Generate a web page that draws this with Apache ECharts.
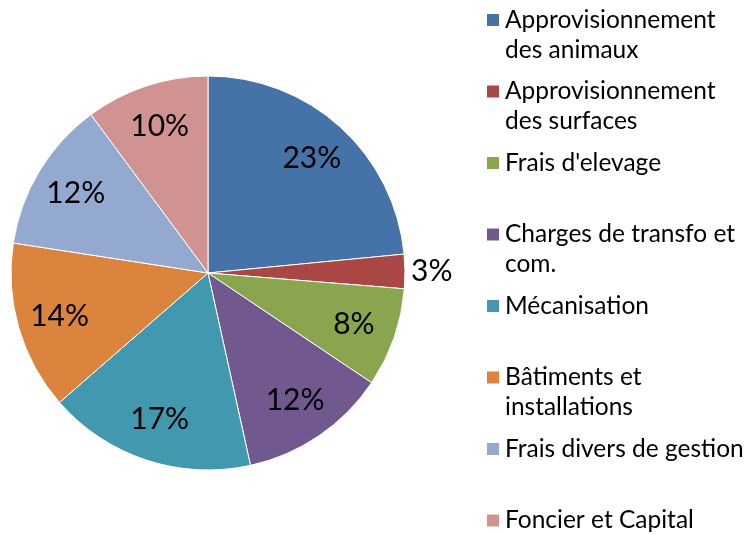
<!DOCTYPE html>
<html>
<head>
    <meta charset="utf-8">
    <title>Répartition des charges</title>
    <script src="https://cdn.jsdelivr.net/npm/echarts@6/dist/echarts.min.js"></script>
    <style>
        html, body { margin: 0; padding: 0; background: #fff; }
        #chart { width: 747px; height: 534px; }
    </style>
</head>
<body>
<div id="chart"></div>
<script>
    // postes de charges (les \n reprennent le retour a la ligne de la legende)
    var categories = [
        'Approvisionnement\ndes animaux',
        'Approvisionnement\ndes surfaces',
        "Frais d'elevage",
        'Charges de transfo et\ncom.',
        'Mécanisation',
        'Bâtiments et\ninstallations',
        'Frais divers de gestion',
        'Foncier et Capital'
    ];
    var values = [23.4, 2.8, 8.1, 12.1, 17.0, 13.8, 12.4, 10.1];
    var colors = ['#4572A7', '#AA4643', '#89A54E', '#71588F', '#4198AF', '#DB843D', '#93A9CF', '#D19392'];

    var font = 'Lato, "Open Sans", sans-serif';
    var cx = 208, cy = 273, r = 197;

    var total = 0;
    var pieData = [];
    var labelData = [];
    for (var i = 0; i < categories.length; i++) {
        total += values[i];
        var small = values[i] < 5;
        pieData.push({
            name: categories[i],
            value: values[i],
            label: {show: small}
        });
        labelData.push({
            name: categories[i],
            value: values[i],
            label: {show: !small}
        });
    }

    // arrondi simple, comme sur le graphique d'origine (somme = 99 %)
    var pctLabel = function (p) {
        return Math.round(p.value / total * 100) + '%';
    };

    var myChart = echarts.init(document.getElementById('chart'), null, {renderer: 'canvas'});
    var option = {
        animation: false,
        color: colors,
        legend: {
            orient: 'vertical',
            left: 485,
            top: -25,
            height: 640,
            padding: 0,
            itemGap: -18.5,
            itemWidth: 14,
            itemHeight: 14,
            icon: 'rect',
            selectedMode: false,
            data: categories,
            // ligne vide au-dessus pour aligner la premiere ligne sur le carre
            formatter: function (name) {
                return name.indexOf('\n') >= 0 ? ' \n' + name : ' \n' + name + '\n ';
            },
            textStyle: {
                fontFamily: font,
                fontSize: 24.5,
                lineHeight: 30,
                color: '#000'
            }
        },
        series: [
            {
                type: 'pie',
                center: [cx, cy],
                radius: [0, r],
                startAngle: 90,
                clockwise: true,
                silent: true,
                itemStyle: {borderColor: '#fff', borderWidth: 1},
                label: {
                    position: 'outside',
                    formatter: pctLabel,
                    fontFamily: font,
                    fontSize: 30,
                    color: '#000',
                    distanceToLabelLine: 4
                },
                labelLine: {show: false, length: 2, length2: 0},
                data: pieData
            },
            {
                // anneau transparent : place les etiquettes a ~3/4 du rayon
                type: 'pie',
                center: [cx, cy],
                radius: [106, r],
                startAngle: 90,
                clockwise: true,
                silent: true,
                itemStyle: {color: 'rgba(0,0,0,0)'},
                label: {
                    position: 'inside',
                    formatter: pctLabel,
                    fontFamily: font,
                    fontSize: 30,
                    color: '#000'
                },
                labelLine: {show: false},
                data: labelData
            }
        ]
    };
    myChart.setOption(option);
</script>
</body>
</html>
